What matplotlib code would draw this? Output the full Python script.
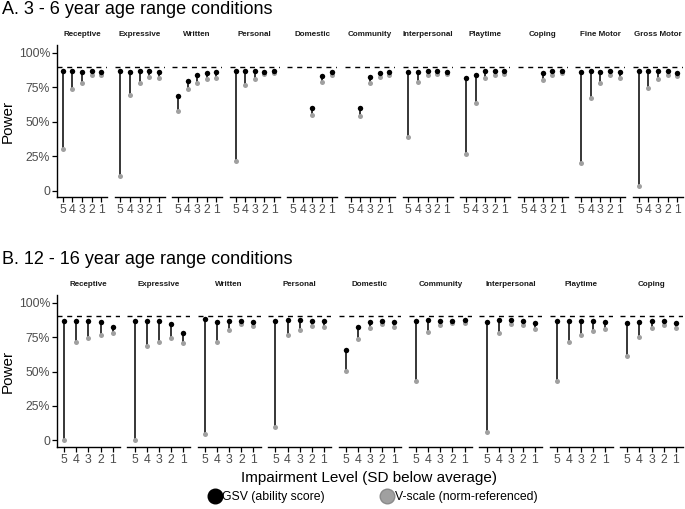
import numpy as np
import matplotlib
matplotlib.use("Agg")
import matplotlib.pyplot as plt
from matplotlib.lines import Line2D

plt.rcParams["font.family"] = ["Liberation Sans", "DejaVu Sans"]

N = np.nan
LEVELS = [5, 4, 3, 2, 1]
TARGET = 90

# panel A: 3 - 6 years (power in %, levels 5..1)
domains_a = ["Receptive", "Expressive", "Written", "Personal", "Domestic", "Community",
             "Interpersonal", "Playtime", "Coping", "Fine Motor", "Gross Motor"]
gsv_a = [
    [87, 87, 86.2, 86.7, 86.2],
    [87, 85.7, 86.5, 86.5, 86],
    [68.6, 79.5, 83.8, 85.5, 86.2],
    [86.7, 86.7, 86.7, 86.2, 86.7],
    [N, N, 60.1, 83.3, 86.2],
    [N, 60.1, 82.1, 85, 86.2],
    [85.7, 86.2, 86.7, 86.7, 86.2],
    [81.4, 84, 86.7, 86.7, 87],
    [N, N, 85, 86.5, 86.7],
    [86.2, 87, 85.7, 87, 86.2],
    [86.7, 86.5, 87, 87, 85.5],
]
vscale_a = [
    [30.2, 73.4, 78.3, 83.6, 84],
    [10.6, 69.6, 78.3, 82.1, 81.6],
    [57.7, 73.4, 78.3, 80.7, 81.4],
    [21.7, 76.6, 80.9, 84.5, 85.5],
    [N, N, 54.8, 78.5, 83.8],
    [N, 54.1, 78.3, 82.1, 83.8],
    [38.6, 78.5, 83.8, 84.5, 84.3],
    [26.6, 63.8, 81.9, 83.8, 84.8],
    [N, N, 80.2, 83.6, 85],
    [20.3, 66.9, 77.8, 83.6, 81.4],
    [3.6, 74.4, 80.9, 83.8, 83.1],
]

# panel B: 12 - 16 years
domains_b = ["Receptive", "Expressive", "Written", "Personal", "Domestic", "Community",
             "Interpersonal", "Playtime", "Coping"]
gsv_b = [
    [86.7, 86.7, 86.4, 85.7, 82],
    [86.4, 86.7, 86.4, 84.5, 78.2],
    [87.9, 86.2, 86.7, 86.7, 86.2],
    [86.9, 87.4, 87.4, 86.7, 86.7],
    [66, 82, 85.7, 86.7, 86.2],
    [86.7, 87.4, 86.7, 86.9, 87.4],
    [86.2, 87.4, 87.4, 86.7, 85.4],
    [86.7, 86.7, 86.7, 86.7, 86.2],
    [85, 86.2, 86.7, 86.7, 85.4],
]
vscale_b = [
    [0.5, 71.6, 74.3, 76.9, 78.2],
    [0.5, 68.9, 71.8, 74.5, 70.6],
    [4.9, 71.6, 79.9, 84.5, 83.3],
    [9.7, 76.2, 80.1, 83, 82.5],
    [50.5, 73.5, 81.8, 84.2, 82],
    [43.2, 78.9, 83.7, 85, 85.4],
    [6.1, 78.2, 84.2, 84, 81],
    [43, 71.6, 76.5, 79.4, 80.6],
    [61.4, 74.8, 81.3, 83.7, 81.6],
]

W, H = 685, 509
GREY = "#a0a0a0"
TXT = "#4d4d4d"

fig = plt.figure(figsize=(W / 100, H / 100), dpi=100)


def px_axes(x0, y0, x1, y1):
    return fig.add_axes([x0 / W, 1 - y1 / H, (x1 - x0) / W, (y1 - y0) / H])


def draw_panel(domains, gsv, vs, top, bottom, strip_y, left=57, right=683, gap=7.5):
    n = len(domains)
    w = (right - left - gap * (n - 1)) / n
    for i, dom in enumerate(domains):
        x0 = left + i * (w + gap)
        ax = px_axes(x0, top, x0 + w, bottom)
        g = np.array(gsv[i], float)
        v = np.array(vs[i], float)
        ax.vlines(LEVELS, v, g, color="black", lw=1.1, zorder=2)
        ax.plot(LEVELS, v, "o", color=GREY, ms=3.6, mec="none", zorder=3)
        ax.plot(LEVELS, g, "o", color="black", ms=3.9, mec="none", zorder=4)
        ax.axhline(TARGET, color="black", ls=(0, (3.6, 3.4)), lw=1.0, zorder=1)
        ax.set_xlim(5.6, 0.4)
        ax.set_ylim(-4.6, 105.6)
        ax.set_xticks(LEVELS)
        ax.set_xticklabels([str(l) for l in LEVELS])
        ax.tick_params(axis="x", length=3.5, width=0.9, labelcolor=TXT, labelsize=8.8, pad=1.5)
        for s in ("top", "right"):
            ax.spines[s].set_visible(False)
        ax.spines["bottom"].set_linewidth(1.0)
        if i == 0:
            ax.spines["left"].set_linewidth(1.0)
            ax.set_yticks([0, 25, 50, 75, 100])
            ax.set_yticklabels(["0", "25%", "50%", "75%", "100%"])
            ax.tick_params(axis="y", length=3.5, width=0.9, labelcolor=TXT, labelsize=8.8, pad=1.5)
        else:
            ax.spines["left"].set_visible(False)
            ax.set_yticks([])
        ax.patch.set_alpha(0)
        fig.text((x0 + w / 2) / W, 1 - strip_y / H, dom, fontsize=5.8, fontweight="bold",
                 color="#1a1a1a", ha="center", va="center")


draw_panel(domains_a, gsv_a, vscale_a, 45, 197, 35)
draw_panel(domains_b, gsv_b, vscale_b, 295, 446.7, 284)

fig.text(2 / W, 1 - 10 / H, "A. 3 - 6 year age range conditions", fontsize=13, ha="left", va="center")
fig.text(2 / W, 1 - 259 / H, "B. 12 - 16 year age range conditions", fontsize=13, ha="left", va="center")
fig.text(8 / W, 1 - 121 / H, "Power", fontsize=11, rotation=90, ha="center", va="center")
fig.text(8 / W, 1 - 371 / H, "Power", fontsize=11, rotation=90, ha="center", va="center")
fig.text(369 / W, 1 - 478 / H, "Impairment Level (SD below average)", fontsize=11,
         ha="center", va="center")

handles = [Line2D([], [], ls="none", marker="o", ms=10.5, color="black", mec="black"),
           Line2D([], [], ls="none", marker="o", ms=10.5, color=GREY, mec="#8a8a8a")]
fig.legend(handles, ["GSV (ability score)", "V-scale (norm-referenced)"], loc="center",
           bbox_to_anchor=(373 / W, 1 - 497 / H), ncol=2, frameon=False, fontsize=8.8,
           handletextpad=0.1, columnspacing=4.6, handlelength=1.0, borderpad=0.1)

fig.savefig("out.png", dpi=100)
